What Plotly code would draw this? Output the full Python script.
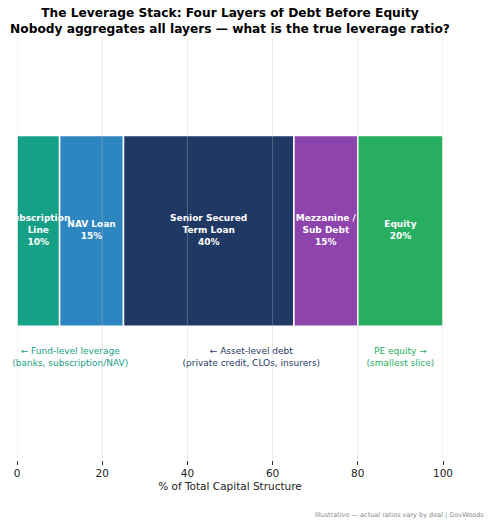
"""The leverage stack — horizontal stacked bar of capital layers."""
import plotly.graph_objects as go

layers = ["Subscription Line", "NAV Loan", "Senior Secured Term Loan",
          "Mezzanine / Sub Debt", "Equity"]
bar_labels = ["Subscription<br>Line<br>10%", "NAV Loan<br>15%",
              "Senior Secured<br>Term Loan<br>40%", "Mezzanine /<br>Sub Debt<br>15%",
              "Equity<br>20%"]
shares = [10, 15, 40, 15, 20]
colors = ["#16a085", "#2e86c1", "#1f3864", "#8e44ad", "#27ae60"]

group_notes = ["← Fund-level leverage<br>(banks, subscription/NAV)",
               "← Asset-level debt<br>(private credit, CLOs, insurers)",
               "PE equity →<br>(smallest slice)"]
group_x = [12.5, 55, 90]
group_colors = ["#16a085", "#1f3864", "#27ae60"]

x_ticks = [0, 20, 40, 60, 80, 100]

starts = [sum(shares[:i]) for i in range(len(shares))]
centers = [s + v / 2 for s, v in zip(starts, shares)]

fig = go.Figure()

for name, s, v, c in zip(layers, starts, shares, colors):
    fig.add_trace(go.Bar(
        y=[0], x=[v], base=[s], orientation="h", width=0.5,
        marker=dict(color=c, line=dict(color="white", width=1.5)),
        name=name, showlegend=False, hoverinfo="skip",
    ))

# labels inside the bars (clipped at the plot edge like the original)
fig.add_trace(go.Scatter(
    x=centers, y=[0] * len(centers), mode="text", text=bar_labels,
    textfont=dict(family="DejaVu Sans", size=9, color="white", weight="bold"),
    cliponaxis=True, showlegend=False, hoverinfo="skip",
))

# group notes under the bar
fig.add_trace(go.Scatter(
    x=group_x, y=[-0.333] * len(group_x), mode="text", text=group_notes,
    textfont=dict(family="DejaVu Sans", size=9, color=group_colors),
    cliponaxis=False, showlegend=False, hoverinfo="skip",
))

# grid drawn over the bars, faint
for t in x_ticks:
    fig.add_shape(type="line", xref="x", yref="paper", x0=t, x1=t, y0=0, y1=1,
                  line=dict(color="rgba(190,190,190,0.35)", width=1), layer="above")

fig.update_xaxes(
    range=[0, 100], tickvals=x_ticks, showgrid=False, zeroline=False,
    showline=False, ticks="outside", ticklen=3.5, tickcolor="#333",
    automargin=False,
    tickfont=dict(family="DejaVu Sans", size=10.5, color="#222"),
    title=dict(text="% of Total Capital Structure", standoff=4,
               font=dict(family="DejaVu Sans", size=10.5, color="#222")),
)
fig.update_yaxes(range=[-0.6, 0.505], visible=False)

fig.add_annotation(
    text="Illustrative — actual ratios vary by deal | GovWoods",
    xref="paper", yref="paper", x=1.101, y=-0.13, xanchor="right", yanchor="middle",
    showarrow=False, font=dict(family="DejaVu Sans", size=6.5, color="#888888"),
)

# the page adds an 8px body margin, so margins are trimmed by that much
fig.update_layout(
    width=500, height=526,
    title=dict(
        text="The Leverage Stack: Four Layers of Debt Before Equity<br>"
             "Nobody aggregates all layers — what is the true leverage ratio?",
        x=0.444, xanchor="center", y=0.982, yanchor="top",
        font=dict(family="DejaVu Sans", size=12.2, color="black", weight="bold"),
    ),
    barmode="overlay",
    plot_bgcolor="white", paper_bgcolor="white",
    margin=dict(l=9, r=65, t=30, b=74),
)

fig.write_html("out.html")
